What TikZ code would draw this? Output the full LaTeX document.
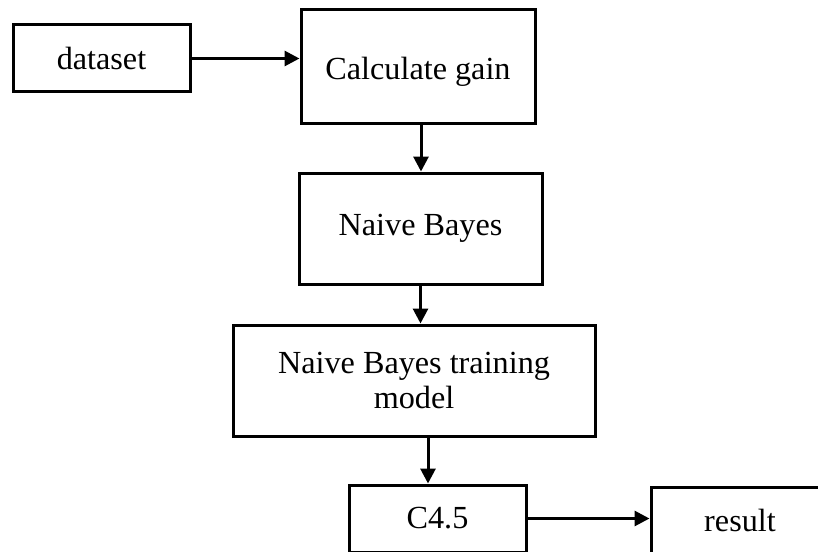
\documentclass[tikz,border=0pt]{standalone}
\usepackage{fontspec}
\setmainfont{Liberation Serif}
\usetikzlibrary{arrows.meta}

\begin{document}
\begin{tikzpicture}[x=0.5pt,y=-0.5pt,
    flowbox/.style={draw,line width=1.5pt,inner sep=0,align=center,
                    font=\fontsize{16.1}{17.8}\selectfont},
    flow/.style={draw,line width=1.5pt,-{Triangle[length=7.5pt,width=7.5pt]}}
    ]
    \useasboundingbox (0,0) rectangle (818,551);
    \clip (0,0) rectangle (818,551);
    %%% boxes
    \node[flowbox,minimum width=88.5pt,minimum height=33.5pt] (dataset) at (101.5,58.5) {dataset};
    \node[flowbox,minimum width=117pt,minimum height=56.5pt,text height=16pt] (calc) at (418,66.5) {Calculate gain};
    \node[flowbox,minimum width=121.5pt,minimum height=55.5pt] (nb) at (420.5,228.5) {Naive Bayes};
    \node[flowbox,minimum width=181pt,minimum height=55.5pt] (train) at (414,380.5)
        {Naive Bayes training\\model};
    \node[flowbox,minimum width=88.5pt,minimum height=33.5pt] (c45) at (437.5,518.5) {C4.5};
    \node[flowbox,minimum width=89pt,minimum height=33pt] (result) at (740,520) {result};
    %%% arrows
    \draw[flow] (dataset.east) -- (dataset.east -| calc.west);
    \draw[flow] ([xshift=1.5pt]calc.south) -- ([xshift=1.5pt]calc.south |- nb.north);
    \draw[flow] (nb.south) -- (nb.south |- train.north);
    \draw[flow] ([xshift=7pt]train.south) -- ([xshift=-4.75pt]c45.north);
    \draw[flow] (c45.east) -- (c45.east -| result.west);
\end{tikzpicture}
\end{document}
